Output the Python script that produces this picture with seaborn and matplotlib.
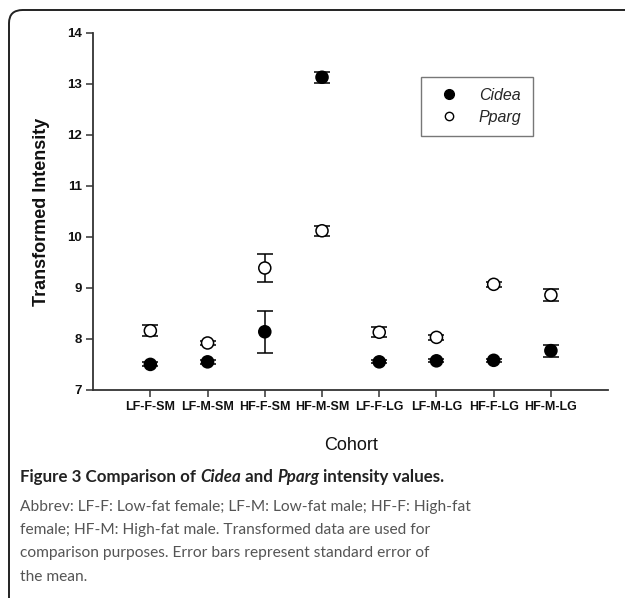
import matplotlib
matplotlib.use("Agg")
import matplotlib.pyplot as plt
from matplotlib.patches import FancyBboxPatch
from matplotlib.lines import Line2D
import seaborn as sns
import pandas as pd

cohorts = ["LF-F-SM", "LF-M-SM", "HF-F-SM", "HF-M-SM", "LF-F-LG", "LF-M-LG", "HF-F-LG", "HF-M-LG"]
cidea = [7.50, 7.55, 8.14, 13.13, 7.55, 7.57, 7.58, 7.77]
cidea_se = [0.04, 0.04, 0.41, 0.11, 0.03, 0.03, 0.03, 0.12]
pparg = [8.16, 7.92, 9.39, 10.12, 8.13, 8.03, 9.07, 8.86]
pparg_se = [0.11, 0.03, 0.28, 0.10, 0.10, 0.05, 0.05, 0.12]
yticks = [7, 8, 9, 10, 11, 12, 13, 14]

df = pd.DataFrame({
    "Cohort": cohorts * 2,
    "Value": cidea + pparg,
    "SE": cidea_se + pparg_se,
    "Gene": ["Cidea"] * len(cohorts) + ["Pparg"] * len(cohorts),
})

sns.set_theme(style="white")
plt.rcParams["font.family"] = ["Liberation Sans", "DejaVu Sans"]

fig = plt.figure(figsize=(6.25, 5.98), dpi=100)
ax = fig.add_axes([0.149, 0.348, 0.824, 0.597])

for gene in ["Cidea", "Pparg"]:
    sub = df[df["Gene"] == gene]
    ax.errorbar(sub["Cohort"], sub["Value"], yerr=sub["SE"], fmt="none",
                ecolor="black", elinewidth=1.1, capsize=5.5, capthick=1.1, zorder=2)

sns.scatterplot(data=df, x="Cohort", y="Value", hue="Gene", style="Gene",
                palette={"Cidea": "black", "Pparg": "white"},
                markers={"Cidea": "o", "Pparg": "o"},
                s=75, edgecolor="black", linewidth=1.1, ax=ax, zorder=3, legend=False)

ax.set_xlim(-1, 8)
ax.set_ylim(7, 14)
ax.set_yticks(yticks)
ax.set_yticklabels([str(t) for t in yticks])
for s in ["top", "right"]:
    ax.spines[s].set_visible(False)
for s in ["left", "bottom"]:
    ax.spines[s].set_color("#333333")
    ax.spines[s].set_linewidth(1.3)
ax.tick_params(axis="both", which="major", direction="out", length=5, width=1.1,
               color="#333333", left=True, bottom=True, pad=3)
for lab in ax.get_xticklabels():
    lab.set_fontweight("bold"); lab.set_fontsize(9); lab.set_color("#111111")
for lab in ax.get_yticklabels():
    lab.set_fontweight("bold"); lab.set_fontsize(9.5); lab.set_color("#111111")

ax.set_xlabel("Cohort", fontsize=13, labelpad=17, color="#111111")
ax.set_ylabel("Transformed Intensity", fontsize=13, fontweight="bold", labelpad=12, color="#111111")

handles = [Line2D([], [], marker="o", ls="none", markerfacecolor="black", markeredgecolor="black", markersize=7),
           Line2D([], [], marker="o", ls="none", markerfacecolor="white", markeredgecolor="black", markersize=6)]
leg = ax.legend(handles, ["Cidea", "Pparg"], loc="upper left", bbox_to_anchor=(0.622, 0.90),
                frameon=True, fancybox=False, edgecolor="#555555", borderpad=0.7,
                handletextpad=0.9, labelspacing=0.45, prop={"style": "italic", "size": 11.5})
leg.get_frame().set_linewidth(1.0)

border = FancyBboxPatch((9 / 625, -0.05), 1.2, 1 - 10 / 598 + 0.05,
                        boxstyle="round,pad=0,rounding_size=0.022",
                        transform=fig.transFigure, fill=False, edgecolor="#222222",
                        linewidth=1.4, clip_on=False)
fig.patches.append(border)

cap_font = ["Lato", "DejaVu Sans"]
fig.canvas.draw()
renderer = fig.canvas.get_renderer()
x = 20
ytitle = 1 - 477 / 598
pieces = [("Figure 3 Comparison of ", "normal"), ("Cidea", "italic"), (" and ", "normal"),
          ("Pparg", "italic"), (" intensity values.", "normal")]
for txt, style in pieces:
    t = fig.text(x / 625, ytitle, txt, fontsize=12.2, fontweight="bold", style=style,
                 family=cap_font, color="#222222", va="center")
    bb = t.get_window_extent(renderer)
    x += bb.width

lines = ["Abbrev: LF-F: Low-fat female; LF-M: Low-fat male; HF-F: High-fat",
         "female; HF-M: High-fat male. Transformed data are used for",
         "comparison purposes. Error bars represent standard error of",
         "the mean."]
ys = [507, 530, 553, 577]
for t, y in zip(lines, ys):
    fig.text(20 / 625, 1 - y / 598, t, fontsize=11.2, family=cap_font, color="#555555", va="center")

fig.savefig("out.png", dpi=100)
